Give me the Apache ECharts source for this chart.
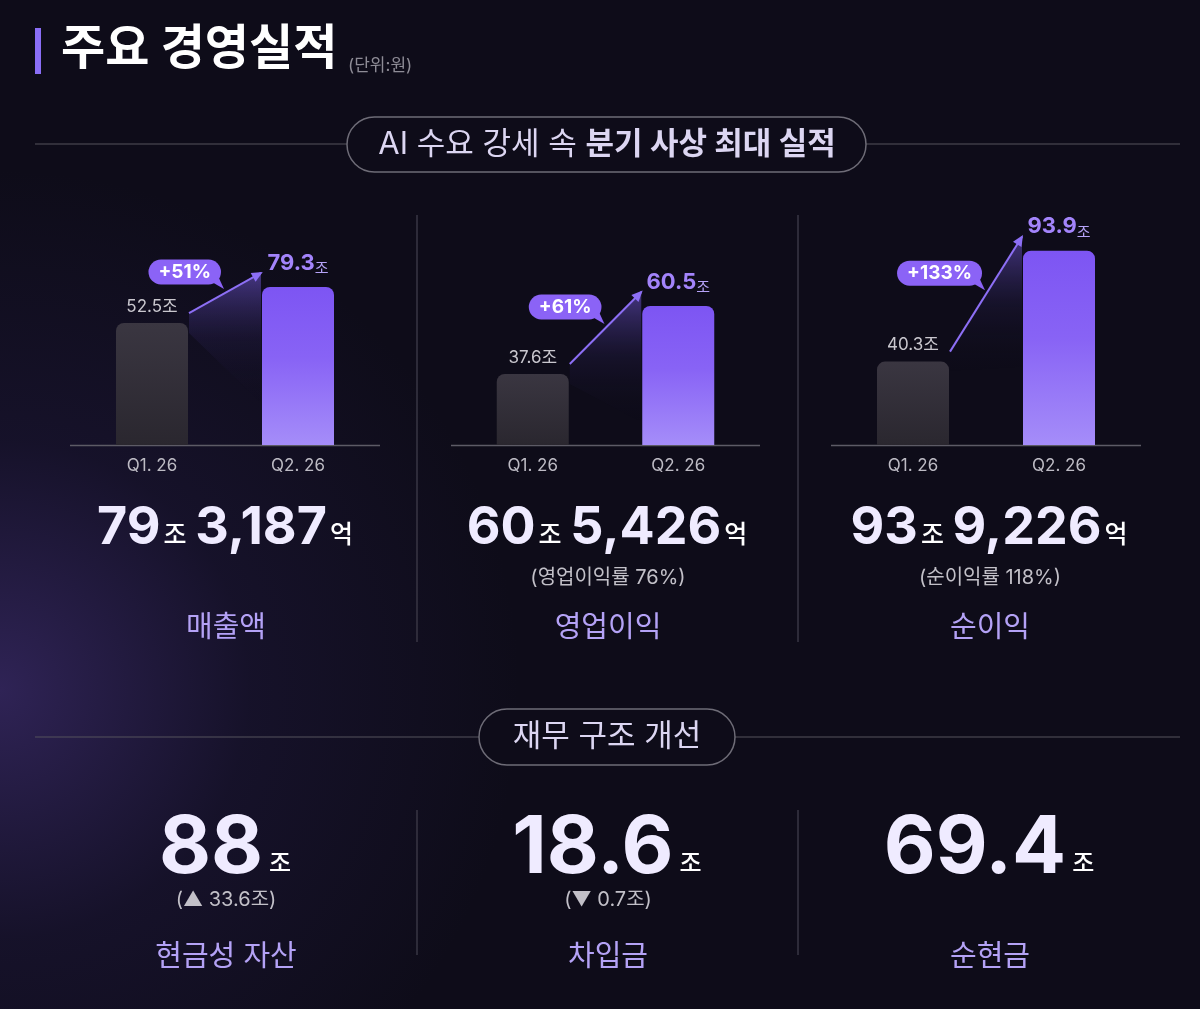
<!DOCTYPE html>
<html>
<head>
<meta charset="utf-8">
<script src="https://cdn.jsdelivr.net/npm/echarts@6/dist/echarts.min.js"></script>
<style>
  html, body { margin: 0; padding: 0; background: #0e0c19; }
  #main {
    width: 1200px; height: 1009px;
    background:
      radial-gradient(circle at 0px 690px, rgba(74, 54, 135, 0.55) 0, rgba(42, 32, 84, 0.28) 250px, rgba(14, 12, 25, 0) 520px),
      #0e0c19;
  }
</style>
</head>
<body>
<div id="main"></div>
<script>
// 분기 실적 (단위: 조원)
var periods = ["Q1. 26", "Q2. 26"];
var revenue = [52.5, 79.3];
var opProfit = [37.6, 60.5];
var netProfit = [40.3, 93.9];
var growthLabels = ["+51%", "+61%", "+133%"];

var totalJo = ["79", "60", "93"];
var totalEok = ["3,187", "5,426", "9,226"];
var marginTexts = ["", "(영업이익률 76%)", "(순이익률 118%)"];
var metricNames = ["매출액", "영업이익", "순이익"];

// 재무 구조
var finValues = ["88", "18.6", "69.4"];
var finDeltas = ["(▲ 33.6조)", "(▼ 0.7조)", ""];
var finNames = ["현금성 자산", "차입금", "순현금"];

var FONT = "Inter, 'Noto Sans CJK KR', sans-serif";
var panels = [revenue, opProfit, netProfit];
// the infographic is not drawn to one scale: each mini chart gets its own axis
var barCenters = [[152, 298], [533, 678], [913, 1059]];
var yTypes = ["log", "value", "value"];
var yRanges = [[12.98, 214.8], [13.7, 96.2], [0, 118.4]];
var colCenters = [226, 608, 990];
var baseY = 445;
var barW = 72;

var chart = echarts.init(document.getElementById("main"), null, { renderer: "canvas" });

function q1Color() {
  return new echarts.graphic.LinearGradient(0, 0, 0, 1, [
    { offset: 0, color: "#3a3641" },
    { offset: 1, color: "#2a272f" }
  ]);
}
function q2Color() {
  return new echarts.graphic.LinearGradient(0, 0, 0, 1, [
    { offset: 0, color: "#7d55f3" },
    { offset: 0.45, color: "#8863f5" },
    { offset: 1, color: "#a58df9" }
  ]);
}

var grids = [], xAxes = [], yAxes = [], series = [];
panels.forEach(function (vals, i) {
  var c = barCenters[i];
  grids.push({
    left: c[0] - 73,
    width: c[1] - c[0] + 146,
    top: 200,
    bottom: 1009 - baseY
  });
  xAxes.push({
    type: "category",
    gridIndex: i,
    data: periods,
    axisLine: { show: false },
    axisTick: { show: false },
    axisLabel: { color: "#bdbbc4", fontSize: 17, fontFamily: FONT, margin: 12 }
  });
  var ya = {
    type: yTypes[i],
    gridIndex: i,
    min: yRanges[i][0],
    max: yRanges[i][1],
    show: false,
    splitLine: { show: false }
  };
  if (yTypes[i] === "log") ya.logBase = 10;
  yAxes.push(ya);
  series.push({
    type: "bar",
    xAxisIndex: i,
    yAxisIndex: i,
    barWidth: barW,
    data: vals.map(function (v, k) {
      return {
        value: v,
        itemStyle: { color: k === 0 ? q1Color() : q2Color(), borderRadius: [8, 8, 0, 0] },
        label: {
          show: true,
          position: "top",
          distance: k === 0 ? 8 : 11,
          formatter: k === 0 ? "{a|" + v + "}{u|조}" : "{b|" + v + "}{c|조}",
          rich: {
            a: { color: "#c9c7ce", fontSize: 17, fontFamily: FONT },
            u: { color: "#c9c7ce", fontSize: 17, fontFamily: FONT },
            b: { color: "#a384fb", fontSize: 22, fontWeight: "bold", fontFamily: FONT, lineHeight: 26 },
            c: { color: "#b6a3f8", fontSize: 15, fontFamily: FONT, lineHeight: 24, verticalAlign: "bottom" }
          }
        }
      };
    })
  });
});

chart.setOption({
  animation: false,
  grid: grids,
  xAxis: xAxes,
  yAxis: yAxes,
  series: series
});

// ----- decorations & texts -----
var g = [];

// title
g.push({ type: "rect", shape: { x: 35, y: 28, width: 6, height: 46 }, style: { fill: "#8a6ef6" } });
g.push({ type: "text", x: 61, y: 50, style: { text: "주요 경영실적", fill: "#ffffff", fontSize: 48, fontWeight: "bold", fontFamily: FONT, verticalAlign: "middle" } });
g.push({ type: "text", x: 348, y: 66, style: { text: "(단위:원)", fill: "#8e8c96", fontSize: 17, fontFamily: FONT, verticalAlign: "middle" } });

// section header pills
function pill(x, y, w, h, cy) {
  g.push({ type: "line", shape: { x1: 35, y1: cy, x2: x, y2: cy }, style: { stroke: "#55535d", lineWidth: 1 } });
  g.push({ type: "line", shape: { x1: x + w, y1: cy, x2: 1180, y2: cy }, style: { stroke: "#55535d", lineWidth: 1 } });
  g.push({ type: "rect", shape: { x: x, y: y, width: w, height: h, r: h / 2 }, style: { fill: "#0e0c19", stroke: "#6e6c77", lineWidth: 1.5 } });
}
pill(347, 117, 519, 55, 144);
pill(479, 709, 256, 56, 737);

g.push({ type: "text", x: 607, y: 145, style: {
  text: "{r|AI 수요 강세 속 }{b|분기 사상 최대 실적}",
  align: "center", verticalAlign: "middle",
  rich: {
    r: { fontSize: 31, fontFamily: FONT, fill: "#dcd6f2" },
    b: { fontSize: 31, fontWeight: "bold", fontFamily: FONT, fill: "#dcd6f2" }
  }
} });
g.push({ type: "text", x: 607, y: 737, style: {
  text: "재무 구조 개선", align: "center", verticalAlign: "middle",
  fontSize: 31, fontFamily: FONT, fill: "#dcd6f2"
} });

// separators
[417, 798].forEach(function (x) {
  g.push({ type: "line", shape: { x1: x, y1: 215, x2: x, y2: 642 }, style: { stroke: "#383645", lineWidth: 1.5 } });
  g.push({ type: "line", shape: { x1: x, y1: 810, x2: x, y2: 955 }, style: { stroke: "#383645", lineWidth: 1.5 } });
});

// baselines, growth arrows and badges from the bar positions
panels.forEach(function (vals, i) {
  var p0 = chart.convertToPixel({ gridIndex: i }, [periods[0], vals[0]]);
  var p1 = chart.convertToPixel({ gridIndex: i }, [periods[1], vals[1]]);
  var c = barCenters[i];
  g.push({ type: "line", shape: { x1: c[0] - 82, y1: baseY + 0.5, x2: c[1] + 82, y2: baseY + 0.5 }, style: { stroke: "#5d5b66", lineWidth: 1.5 } });

  var s = [p0[0] + barW / 2 + 1, p0[1] - 10];
  var e = [p1[0] - barW / 2 - 1, p1[1] - 14];
  g.push({ type: "polygon", shape: { points: [s, e, [e[0], e[1] + 130], [s[0], s[1] + 20]] },
    style: { fill: new echarts.graphic.LinearGradient(0, 0, 0, 1, [
      { offset: 0, color: "rgba(125, 96, 235, 0.5)" },
      { offset: 0.5, color: "rgba(70, 55, 140, 0.15)" },
      { offset: 1, color: "rgba(20, 16, 40, 0)" }
    ]) } });
  g.push({ type: "line", shape: { x1: s[0], y1: s[1], x2: e[0], y2: e[1] }, style: { stroke: "#8d6ff5", lineWidth: 2 } });
  var dx = e[0] - s[0], dy = e[1] - s[1], len = Math.sqrt(dx * dx + dy * dy);
  var ux = dx / len, uy = dy / len, nx = -uy, ny = ux;
  g.push({ type: "polygon", shape: { points: [
    [e[0] + ux * 2, e[1] + uy * 2],
    [e[0] - ux * 9 + nx * 5, e[1] - uy * 9 + ny * 5],
    [e[0] - ux * 9 - nx * 5, e[1] - uy * 9 - ny * 5]
  ] }, style: { fill: "#8d6ff5" } });

  var mx = (s[0] + e[0]) / 2, my = (s[1] + e[1]) / 2;
  var R = mx - 4, cy = my - 21;
  g.push({ type: "polygon", shape: { points: [[R - 16, cy + 6], [R - 3, cy + 4], [R + 3, cy + 17]] }, style: { fill: "#8b63f6" } });
  g.push({ type: "text", x: R, y: cy, style: {
    text: growthLabels[i], align: "right", verticalAlign: "middle",
    fill: "#ffffff", fontSize: 19, fontWeight: "bold", fontFamily: FONT,
    backgroundColor: "#8b63f6", padding: [2, 10, 2, 10], borderRadius: 13, lineHeight: 21
  } });
});

// totals: unit lifted with bottom padding so it sits on the digit baseline
var numRich = function (size, unitSize, lift, gap) {
  return {
    n: { fontSize: size, fontWeight: "bold", fontFamily: FONT, fill: "#efebff", lineHeight: size },
    u: { fontSize: unitSize, fontWeight: 500, fontFamily: FONT, fill: "#ffffff", verticalAlign: "bottom", padding: [0, 2, lift, gap] }
  };
};
colCenters.forEach(function (cx, i) {
  g.push({ type: "text", x: cx, y: 528, style: {
    text: "{n|" + totalJo[i] + "}{u|조 }{n|" + totalEok[i] + "}{u|억}",
    align: "center", verticalAlign: "middle", rich: numRich(52, 25, 6, 3)
  } });
  if (marginTexts[i]) {
    g.push({ type: "text", x: cx, y: 578, style: { text: marginTexts[i], align: "center", verticalAlign: "middle", fill: "#c2c0c8", fontSize: 20, fontFamily: FONT } });
  }
  g.push({ type: "text", x: cx, y: 628, style: { text: metricNames[i], align: "center", verticalAlign: "middle", fill: "#b4a2f6", fontSize: 29, fontFamily: FONT } });

  g.push({ type: "text", x: cx, y: 849, style: {
    text: "{n|" + finValues[i] + "}{u|조}",
    align: "center", verticalAlign: "middle", rich: numRich(80, 24, 13, 6)
  } });
  if (finDeltas[i]) {
    g.push({ type: "text", x: cx, y: 900, style: { text: finDeltas[i], align: "center", verticalAlign: "middle", fill: "#c2c0c8", fontSize: 20, fontFamily: FONT } });
  }
  g.push({ type: "text", x: cx, y: 957, style: { text: finNames[i], align: "center", verticalAlign: "middle", fill: "#b4a2f6", fontSize: 29, fontFamily: FONT } });
});

chart.setOption({ graphic: { elements: g } });
</script>
</body>
</html>
